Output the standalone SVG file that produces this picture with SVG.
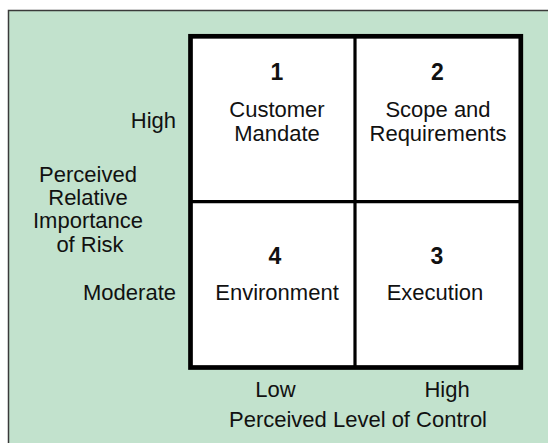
<svg xmlns="http://www.w3.org/2000/svg" width="548" height="443" viewBox="0 0 548 443">
<style>
.t{font-family:"Liberation Sans",Arial,sans-serif;font-size:22px;fill:#111}
.n{font-family:"Liberation Sans",Arial,sans-serif;font-size:23px;font-weight:bold;fill:#111}
.c{text-anchor:middle}
.r{text-anchor:end}
.cell{fill:#fff}
</style>
<rect id="panel" x="8.5" y="10.5" width="545" height="440" fill="#c2e2cd" stroke="#3a3a3a" stroke-width="1.5"/>
<g id="q1">
<rect class="cell" x="190.5" y="36.5" width="164.5" height="165"/>
<text class="n c" x="277" y="80">1</text>
<text class="t c" x="277" y="117">Customer</text>
<text class="t c" x="277" y="140.5">Mandate</text>
</g>
<g id="q2">
<rect class="cell" x="355" y="36.5" width="166" height="165"/>
<text class="n c" x="437.5" y="80">2</text>
<text class="t c" x="438" y="117">Scope and</text>
<text class="t c" x="438" y="140.5">Requirements</text>
</g>
<g id="q4">
<rect class="cell" x="190.5" y="201.5" width="164.5" height="166"/>
<text class="n c" x="275" y="264">4</text>
<text class="t c" x="277" y="299.5">Environment</text>
</g>
<g id="q3">
<rect class="cell" x="355" y="201.5" width="166" height="166"/>
<text class="n c" x="437" y="264">3</text>
<text class="t c" x="435" y="299.5">Execution</text>
</g>
<g id="grid" fill="none" stroke="#000">
<rect x="190.5" y="36.3" width="330.3" height="331.2" stroke-width="4.7"/>
<line x1="355" y1="36" x2="355" y2="368" stroke-width="3.2"/>
<line x1="190" y1="201.7" x2="521" y2="201.7" stroke-width="3.2"/>
</g>
<g id="y-axis">
<text class="t r" x="176" y="128">High</text>
<text class="t c" x="88" y="181.5">Perceived</text>
<text class="t c" x="88" y="205">Relative</text>
<text class="t c" x="88" y="228.3">Importance</text>
<text class="t c" x="90" y="251.7">of Risk</text>
<text class="t r" x="176" y="300">Moderate</text>
</g>
<g id="x-axis">
<text class="t c" x="275.5" y="396.7">Low</text>
<text class="t c" x="447" y="396.7">High</text>
<text class="t c" x="358" y="426.5">Perceived Level of Control</text>
</g>
</svg>
